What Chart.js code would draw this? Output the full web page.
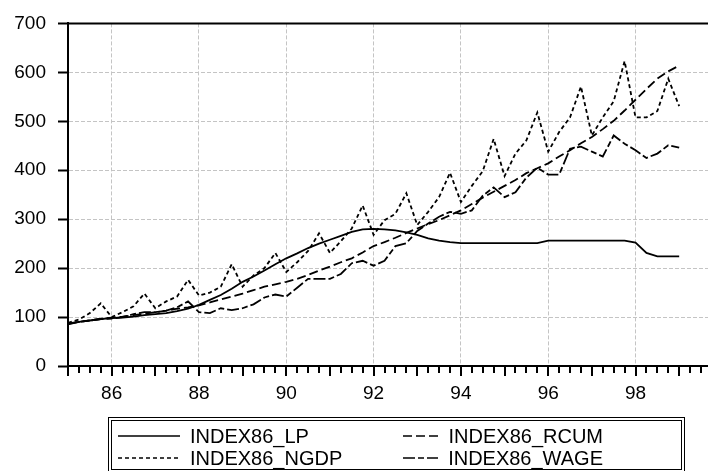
<!DOCTYPE html>
<html>
<head>
<meta charset="utf-8">
<script src="https://cdn.jsdelivr.net/npm/chart.js@4.4.0/dist/chart.umd.min.js"></script>
<style>
  html, body { margin: 0; padding: 0; background: #fff; }
  #wrap { position: relative; width: 708px; height: 471px; }
  #legend {
    position: absolute; left: 108px; top: 417px; width: 563px; height: 44px;
    border: 4px double #000; padding-top: 4px; box-sizing: content-box;
    font: 20px "Liberation Sans", Arial, sans-serif; color: #000;
    display: grid; grid-template-columns: 285px 200px; padding-left: 6px;
  }
  #legend div { line-height: 22px; height: 22px; white-space: nowrap; display: flex; align-items: center; }
  #legend svg { margin-right: 10px; }
</style>
</head>
<body>
<div id="wrap">
  <canvas id="chart" width="708" height="471"></canvas>
  <div id="legend"></div>
</div>
<script>
// quarterly, 1985Q1 .. 1999Q1
const quarters = [
  "1985Q1","1985Q2","1985Q3","1985Q4","1986Q1","1986Q2","1986Q3","1986Q4",
  "1987Q1","1987Q2","1987Q3","1987Q4","1988Q1","1988Q2","1988Q3","1988Q4",
  "1989Q1","1989Q2","1989Q3","1989Q4","1990Q1","1990Q2","1990Q3","1990Q4",
  "1991Q1","1991Q2","1991Q3","1991Q4","1992Q1","1992Q2","1992Q3","1992Q4",
  "1993Q1","1993Q2","1993Q3","1993Q4","1994Q1","1994Q2","1994Q3","1994Q4",
  "1995Q1","1995Q2","1995Q3","1995Q4","1996Q1","1996Q2","1996Q3","1996Q4",
  "1997Q1","1997Q2","1997Q3","1997Q4","1998Q1","1998Q2","1998Q3","1998Q4",
  "1999Q1"
];

const index86_lp = [
  86, 90, 93, 96, 98, 99, 101, 104,
  106, 108, 112, 117, 125, 135, 145, 158,
  172, 183, 195, 208, 220, 230, 241, 250,
  258, 266, 274, 279, 280, 279, 277, 273,
  268, 261, 256, 253, 251, 251, 251, 251,
  251, 251, 251, 251, 256, 256, 256, 256,
  256, 256, 256, 256, 252, 231, 224, 224,
  224
];
const index86_rcum = [
  87, 90, 93, 96, 99, 101, 104, 107,
  110, 113, 117, 120, 124, 130, 136, 142,
  148, 155, 162, 167, 172, 178, 186, 195,
  203, 212, 220, 232, 245, 253, 262, 272,
  281, 290, 298, 308, 318, 331, 344, 356,
  368, 380, 394, 404, 414, 428, 441, 455,
  468, 484, 501, 522, 544, 566, 587, 602,
  614
];
const index86_ngdp = [
  88, 95, 108, 128, 100, 110, 122, 148,
  118, 132, 142, 176, 144, 150, 162, 208,
  162, 185, 200, 231, 192, 212, 235, 271,
  231, 255, 281, 328, 268, 298, 311, 353,
  288, 315, 345, 395, 335, 368, 398, 464,
  388, 434, 461, 518, 438, 478, 508, 571,
  471, 508, 541, 623, 508, 508, 521, 587,
  531
];
const index86_wage = [
  85, 90, 93, 96, 97, 100, 106, 110,
  110, 113, 120, 132, 110, 108, 118, 114,
  118, 126, 140, 146, 142, 160, 178, 178,
  178, 188, 210, 215, 205, 215, 245, 251,
  276, 291, 305, 315, 311, 318, 348, 365,
  345, 355, 385, 405, 391, 391, 444, 448,
  438, 428, 471, 454, 441, 425, 434, 451,
  446
];

const xTickLabels = [86, 88, 90, 92, 94, 96, 98];
const yTicks = [0, 100, 200, 300, 400, 500, 600, 700];

const seriesNames = ["INDEX86_LP", "INDEX86_RCUM", "INDEX86_NGDP", "INDEX86_WAGE"];
const seriesValues = [index86_lp, index86_rcum, index86_ngdp, index86_wage];
const seriesDash = [[], [9, 4], [4, 3], [12, 3, 6, 3]];

const FONT = "'Liberation Sans', Arial, sans-serif";

// "1985Q3" -> 85.5
function qToX(q) {
  return +q.slice(0, 4) - 1900 + (+q.slice(5) - 1) / 4;
}

let datasets = seriesNames.map((name, k) => ({
  label: name,
  data: seriesValues[k].map((v, i) => ({ x: qToX(quarters[i]), y: v })),
  borderColor: "#000",
  borderWidth: 1.8,
  borderDash: seriesDash[k],
  pointRadius: 0,
  tension: 0,
  fill: false,
}));

// top frame line + quarterly / yearly tick marks under the x axis
const frame = {
  id: "frame",
  afterDraw(chart) {
    const { ctx, chartArea: a, scales: { x } } = chart;
    ctx.save();
    ctx.strokeStyle = "#000";
    ctx.lineWidth = 2;
    ctx.beginPath();
    ctx.moveTo(a.left - 1, a.top);
    ctx.lineTo(a.right, a.top);
    ctx.stroke();
    ctx.beginPath();
    for (let q = x.min; q <= x.max + 0.001; q += 0.25) {
      let px = Math.round(x.getPixelForValue(q));
      let len = Math.abs(q - Math.round(q)) < 0.01 ? 10 : 7;
      ctx.moveTo(px, a.bottom);
      ctx.lineTo(px, a.bottom + len);
    }
    ctx.stroke();
    ctx.restore();
  },
};

const gridGray = "#c4c4c4";

new Chart(document.getElementById("chart"), {
  type: "line",
  data: { datasets: datasets },
  plugins: [frame],
  options: {
    responsive: false,
    animation: false,
    layout: { padding: { top: 15, right: 0, bottom: 65, left: 0 } },
    plugins: { legend: { display: false }, tooltip: { enabled: false } },
    scales: {
      x: {
        type: "linear",
        min: 85,
        max: 99.66,
        afterBuildTicks: (s) => { s.ticks = xTickLabels.map((v) => ({ value: v })); },
        afterFit: (s) => { s.height = 40; },
        grid: { color: gridGray, lineWidth: 1, drawTicks: false },
        // in v4 border.dash is what dashes the grid lines
        border: { display: true, color: "#000", width: 2, dash: [4, 2] },
        ticks: {
          padding: 16,
          color: "#000",
          font: { family: FONT, size: 19 },
          maxRotation: 0,
          autoSkip: false,
          callback: (v) => String(v),
        },
      },
      y: {
        min: 0,
        max: 700,
        afterBuildTicks: (s) => { s.ticks = yTicks.map((v) => ({ value: v })); },
        afterFit: (s) => { s.width = 68; },
        grid: {
          color: gridGray, lineWidth: 1,
          tickLength: 10, tickColor: "#000", tickWidth: 2,
          tickBorderDash: [],
        },
        border: { display: true, color: "#000", width: 2, dash: [4, 2] },
        ticks: {
          padding: 12,
          color: "#000",
          font: { family: FONT, size: 19 },
        },
      },
    },
  },
});

// legend box: two columns, LP / NGDP left, RCUM / WAGE right
let legendHtml = "";
seriesNames.forEach((name, k) => {
  legendHtml += `<div><svg width="62" height="6"><line x1="0" y1="3" x2="62" y2="3" stroke="#000" stroke-width="1.6" stroke-dasharray="${seriesDash[k].join(",") || "none"}"/></svg>${name}</div>`;
});
document.getElementById("legend").innerHTML = legendHtml;
</script>
</body>
</html>
